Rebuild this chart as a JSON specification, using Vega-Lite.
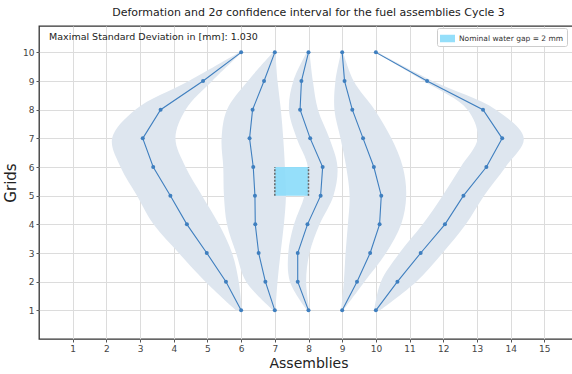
{
  "$schema": "https://vega.github.io/schema/vega-lite/v6.json",
  "autosize": {"type": "none"},
  "padding": {"left": 39, "top": 26, "right": 0, "bottom": 35},
  "width": 539,
  "height": 313,
  "title": {"text": "Deformation and 2σ confidence interval for the fuel assemblies Cycle 3", "fontSize": 11, "font": "DejaVu Sans", "fontWeight": "normal", "color": "#222", "offset": 8},
  "config": {
    "view": {"stroke": "#333", "strokeWidth": 1.3},
    "axis": {"domain": false, "labelOverlap": false, "labelSeparation": 0, "gridColor": "#dcdcdc", "gridWidth": 1, "tickColor": "#555", "tickSize": 3, "labelFont": "DejaVu Sans", "labelFontSize": 9, "labelColor": "#444", "labelPadding": 2, "titleFont": "DejaVu Sans", "titleFontWeight": "normal", "titleColor": "#222"}
  },
  "datasets": {
    "fa": [
      {"a": "A1", "g": 10, "x": 6.0, "lo": 5.95, "hi": 6.03},
      {"a": "A1", "g": 9, "x": 4.87, "lo": 4.45, "hi": 5.14},
      {"a": "A1", "g": 8, "x": 3.61, "lo": 2.86, "hi": 4.35},
      {"a": "A1", "g": 7, "x": 3.08, "lo": 2.17, "hi": 4.05},
      {"a": "A1", "g": 6, "x": 3.39, "lo": 2.42, "hi": 4.35},
      {"a": "A1", "g": 5, "x": 3.9, "lo": 2.91, "hi": 4.84},
      {"a": "A1", "g": 4, "x": 4.39, "lo": 3.4, "hi": 5.34},
      {"a": "A1", "g": 3, "x": 4.98, "lo": 4.15, "hi": 5.73},
      {"a": "A1", "g": 2, "x": 5.55, "lo": 4.94, "hi": 5.93},
      {"a": "A1", "g": 1, "x": 6.0, "lo": 5.85, "hi": 6.02},
      {"a": "A2", "g": 10, "x": 7.0, "lo": 6.95, "hi": 7.02},
      {"a": "A2", "g": 9, "x": 6.68, "lo": 6.2, "hi": 7.08},
      {"a": "A2", "g": 8, "x": 6.34, "lo": 5.58, "hi": 7.18},
      {"a": "A2", "g": 7, "x": 6.25, "lo": 5.42, "hi": 7.25},
      {"a": "A2", "g": 6, "x": 6.36, "lo": 5.47, "hi": 7.3},
      {"a": "A2", "g": 5, "x": 6.41, "lo": 5.49, "hi": 7.33},
      {"a": "A2", "g": 4, "x": 6.42, "lo": 5.58, "hi": 7.27},
      {"a": "A2", "g": 3, "x": 6.52, "lo": 5.85, "hi": 7.17},
      {"a": "A2", "g": 2, "x": 6.72, "lo": 6.15, "hi": 7.08},
      {"a": "A2", "g": 1, "x": 7.0, "lo": 6.95, "hi": 7.02},
      {"a": "A3", "g": 10, "x": 8.0, "lo": 7.95, "hi": 8.03},
      {"a": "A3", "g": 9, "x": 7.79, "lo": 7.55, "hi": 8.13},
      {"a": "A3", "g": 8, "x": 7.75, "lo": 7.42, "hi": 8.28},
      {"a": "A3", "g": 7, "x": 8.05, "lo": 7.65, "hi": 8.62},
      {"a": "A3", "g": 6, "x": 8.42, "lo": 7.98, "hi": 8.86},
      {"a": "A3", "g": 5, "x": 8.36, "lo": 7.88, "hi": 8.74},
      {"a": "A3", "g": 4, "x": 7.97, "lo": 7.57, "hi": 8.33},
      {"a": "A3", "g": 3, "x": 7.68, "lo": 7.4, "hi": 8.03},
      {"a": "A3", "g": 2, "x": 7.68, "lo": 7.45, "hi": 7.93},
      {"a": "A3", "g": 1, "x": 8.0, "lo": 7.96, "hi": 8.03},
      {"a": "A4", "g": 10, "x": 9.0, "lo": 8.97, "hi": 9.03},
      {"a": "A4", "g": 9, "x": 9.07, "lo": 8.8, "hi": 9.34},
      {"a": "A4", "g": 8, "x": 9.3, "lo": 8.77, "hi": 9.96},
      {"a": "A4", "g": 7, "x": 9.62, "lo": 8.95, "hi": 10.46},
      {"a": "A4", "g": 6, "x": 9.94, "lo": 9.12, "hi": 10.8},
      {"a": "A4", "g": 5, "x": 10.16, "lo": 9.22, "hi": 10.9},
      {"a": "A4", "g": 4, "x": 10.11, "lo": 9.17, "hi": 10.75},
      {"a": "A4", "g": 3, "x": 9.83, "lo": 9.1, "hi": 10.3},
      {"a": "A4", "g": 2, "x": 9.44, "lo": 9.05, "hi": 9.66},
      {"a": "A4", "g": 1, "x": 9.0, "lo": 8.97, "hi": 9.03},
      {"a": "A5", "g": 10, "x": 10.0, "lo": 9.97, "hi": 10.05},
      {"a": "A5", "g": 9, "x": 11.52, "lo": 11.42, "hi": 11.68},
      {"a": "A5", "g": 8, "x": 13.18, "lo": 12.72, "hi": 13.56},
      {"a": "A5", "g": 7, "x": 13.75, "lo": 13.02, "hi": 14.39},
      {"a": "A5", "g": 6, "x": 13.28, "lo": 12.52, "hi": 13.85},
      {"a": "A5", "g": 5, "x": 12.6, "lo": 11.98, "hi": 13.21},
      {"a": "A5", "g": 4, "x": 12.05, "lo": 11.39, "hi": 12.67},
      {"a": "A5", "g": 3, "x": 11.33, "lo": 10.7, "hi": 11.98},
      {"a": "A5", "g": 2, "x": 10.64, "lo": 10.15, "hi": 11.2},
      {"a": "A5", "g": 1, "x": 10.0, "lo": 9.95, "hi": 10.12}
    ],
    "gap": [{"x": 7, "x2": 8, "y": 5, "y2": 6, "label": "Nominal water gap = 2 mm"}],
    "edges": [{"x": 7, "y": 5, "y2": 6}, {"x": 8, "y": 5, "y2": 6}],
    "note": [{"x": 0.3, "y": 10.55, "t": "Maximal Standard Deviation in [mm]: 1.030"}]
  },
  "layer": [
    {
      "data": {"name": "fa"},
      "mark": {"type": "area", "orient": "horizontal", "color": "#dee6ef", "opacity": 1, "interpolate": "catmull-rom"},
      "encoding": {
        "y": {"field": "g", "type": "quantitative", "scale": {"domain": [0, 10.92], "nice": false, "zero": false}, "axis": {"values": [1, 2, 3, 4, 5, 6, 7, 8, 9, 10], "labelOverlap": false, "titleFontSize": 15, "titlePadding": 4}, "title": "Grids"},
        "x": {"field": "lo", "type": "quantitative", "scale": {"domain": [0, 16], "nice": false}, "axis": {"values": [1, 2, 3, 4, 5, 6, 7, 8, 9, 10, 11, 12, 13, 14, 15], "labelOverlap": false, "titleFontSize": 14, "titlePadding": 3}, "title": "Assemblies"},
        "x2": {"field": "hi"},
        "detail": {"field": "a"}
      }
    },
    {
      "data": {"name": "gap"},
      "mark": {"type": "rect", "opacity": 0.9},
      "encoding": {
        "x": {"field": "x", "type": "quantitative", "axis": {"values": [1, 2, 3, 4, 5, 6, 7, 8, 9, 10, 11, 12, 13, 14, 15], "labelOverlap": false, "titleFontSize": 14, "titlePadding": 3}, "title": "Assemblies"},
        "x2": {"field": "x2"},
        "y": {"field": "y", "type": "quantitative", "axis": {"values": [1, 2, 3, 4, 5, 6, 7, 8, 9, 10], "labelOverlap": false, "titleFontSize": 15, "titlePadding": 4}, "title": "Grids"},
        "y2": {"field": "y2"},
        "color": {"field": "label", "type": "nominal", "scale": {"range": ["#89dcfa"]}, "legend": {"title": null, "orient": "none", "legendX": 398, "legendY": 2, "fillColor": "white", "strokeColor": "#cccccc", "padding": 3, "cornerRadius": 2, "labelFont": "DejaVu Sans", "labelFontSize": 7.5, "labelColor": "#333", "symbolType": "M-1,-0.5H1V0.5H-1Z", "symbolSize": 225, "symbolStrokeWidth": 0, "symbolOpacity": 0.9}}
      }
    },
    {
      "data": {"name": "edges"},
      "mark": {"type": "rule", "color": "#666", "strokeWidth": 1.5, "strokeDash": [2, 1.5]},
      "encoding": {
        "x": {"field": "x", "type": "quantitative", "axis": {"values": [1, 2, 3, 4, 5, 6, 7, 8, 9, 10, 11, 12, 13, 14, 15], "labelOverlap": false, "titleFontSize": 14, "titlePadding": 3}, "title": "Assemblies"},
        "y": {"field": "y", "type": "quantitative", "axis": {"values": [1, 2, 3, 4, 5, 6, 7, 8, 9, 10], "labelOverlap": false, "titleFontSize": 15, "titlePadding": 4}, "title": "Grids"},
        "y2": {"field": "y2"}
      }
    },
    {
      "data": {"name": "fa"},
      "mark": {"type": "line", "color": "#3f7fbf", "strokeWidth": 1.1, "point": {"filled": true, "size": 16, "color": "#3f7fbf"}},
      "encoding": {
        "x": {"field": "x", "type": "quantitative", "axis": {"values": [1, 2, 3, 4, 5, 6, 7, 8, 9, 10, 11, 12, 13, 14, 15], "labelOverlap": false, "titleFontSize": 14, "titlePadding": 3}, "title": "Assemblies"},
        "y": {"field": "g", "type": "quantitative", "axis": {"values": [1, 2, 3, 4, 5, 6, 7, 8, 9, 10], "labelOverlap": false, "titleFontSize": 15, "titlePadding": 4}, "title": "Grids"},
        "detail": {"field": "a"},
        "order": {"field": "g", "type": "quantitative"}
      }
    },
    {
      "data": {"name": "note"},
      "mark": {"type": "text", "align": "left", "baseline": "middle", "font": "DejaVu Sans", "fontSize": 9.5, "color": "#222"},
      "encoding": {
        "x": {"field": "x", "type": "quantitative", "axis": {"values": [1, 2, 3, 4, 5, 6, 7, 8, 9, 10, 11, 12, 13, 14, 15], "labelOverlap": false, "titleFontSize": 14, "titlePadding": 3}, "title": "Assemblies"},
        "y": {"field": "y", "type": "quantitative", "axis": {"values": [1, 2, 3, 4, 5, 6, 7, 8, 9, 10], "labelOverlap": false, "titleFontSize": 15, "titlePadding": 4}, "title": "Grids"},
        "text": {"field": "t"}
      }
    }
  ]
}
